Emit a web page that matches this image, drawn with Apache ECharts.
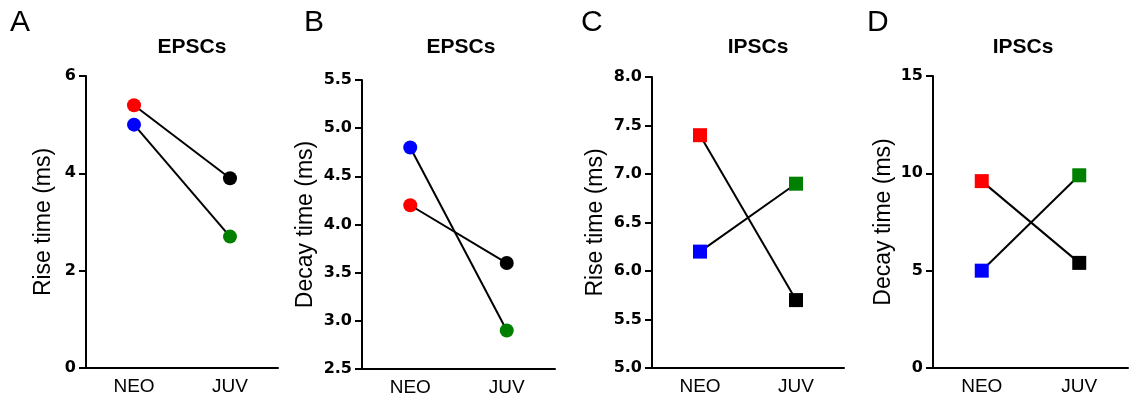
<!DOCTYPE html>
<html>
<head>
<meta charset="utf-8">
<script src="https://cdn.jsdelivr.net/npm/echarts@6/dist/echarts.min.js"></script>
<style>
  html, body { margin: 0; padding: 0; background: #fff; }
  #chart { width: 1132px; height: 400px; }
</style>
</head>
<body>
<div id="chart"></div>
<script>
// Age groups on every x axis
const categories = ['NEO', 'JUV'];

// Each pair is one connected line: [NEO value, JUV value]
// A: EPSC rise time (ms)
const epscRiseRed = [5.4, 3.9];
const epscRiseBlue = [5.0, 2.7];
// B: EPSC decay time (ms)
const epscDecayRed = [4.2, 3.6];
const epscDecayBlue = [4.8, 2.9];
// C: IPSC rise time (ms)
const ipscRiseRed = [7.4, 5.7];
const ipscRiseBlue = [6.2, 6.9];
// D: IPSC decay time (ms)
const ipscDecayRed = [9.6, 5.4];
const ipscDecayBlue = [5.0, 9.9];

// Y tick labels per panel
const ticksA = [0, 2, 4, 6];
const ticksB = [2.5, 3.0, 3.5, 4.0, 4.5, 5.0, 5.5];
const ticksC = [5.0, 5.5, 6.0, 6.5, 7.0, 7.5, 8.0];
const ticksD = [0, 5, 10, 15];

const panelLetters = ['A', 'B', 'C', 'D'];
const panelTitles = ['EPSCs', 'EPSCs', 'IPSCs', 'IPSCs'];
const yNames = ['Rise time (ms)', 'Decay time (ms)', 'Rise time (ms)', 'Decay time (ms)'];

const FONT = '"Liberation Sans", Arial, sans-serif';

const panels = [
  { grid: { left: 86, top: 76, width: 192, height: 292 }, ticks: ticksA, decimals: 0, symbol: 'circle',
    red: epscRiseRed, blue: epscRiseBlue, nameGap: 31, letterX: 10, titleX: 187 },
  { grid: { left: 362, top: 80, width: 193, height: 289 }, ticks: ticksB, decimals: 1, symbol: 'circle',
    red: epscDecayRed, blue: epscDecayBlue, nameGap: 45, letterX: 304, titleX: 456 },
  { grid: { left: 652, top: 77, width: 192, height: 291 }, ticks: ticksC, decimals: 1, symbol: 'rect',
    red: ipscRiseRed, blue: ipscRiseBlue, nameGap: 45, letterX: 581, titleX: 753 },
  { grid: { left: 933, top: 76, width: 195, height: 292 }, ticks: ticksD, decimals: 0, symbol: 'rect',
    red: ipscDecayRed, blue: ipscDecayBlue, nameGap: 38, letterX: 867, titleX: 1018 }
];

const grids = [], xAxes = [], yAxes = [], series = [], titles = [], graphics = [];

panels.forEach((p, i) => {
  grids.push(Object.assign({ containLabel: false }, p.grid));

  xAxes.push({
    type: 'category', gridIndex: i, data: categories, boundaryGap: true,
    axisLine: { onZero: false, lineStyle: { color: '#000', width: 2 } },
    axisTick: { alignWithLabel: true, length: 7, lineStyle: { color: '#000', width: 2 } },
    axisLabel: { margin: 9, color: '#000', fontFamily: FONT, fontSize: 19 },
    splitLine: { show: false }
  });

  const t = p.ticks;
  yAxes.push({
    type: 'value', gridIndex: i,
    min: t[0], max: t[t.length - 1], interval: t[1] - t[0],
    name: yNames[i], nameLocation: 'middle', nameGap: p.nameGap, nameRotate: 90,
    nameTextStyle: { color: '#000', fontFamily: FONT, fontSize: 23 },
    axisLine: { show: true, lineStyle: { color: '#000', width: 2 } },
    axisTick: { show: true, length: 7, lineStyle: { color: '#000', width: 2 } },
    axisLabel: {
      margin: 10, color: '#000', fontFamily: '"DejaVu Sans", sans-serif', fontWeight: 'bold', fontSize: 16,
      formatter: v => Number(v).toFixed(p.decimals)
    },
    splitLine: { show: false }
  });

  const pair = (vals, c0, c1) => [
    { value: vals[0], itemStyle: { color: c0 } },
    { value: vals[1], itemStyle: { color: c1 } }
  ];
  [[p.red, '#ff0000', '#000000'], [p.blue, '#0000ff', '#008000']].forEach(([vals, c0, c1]) => {
    series.push({
      type: 'line', xAxisIndex: i, yAxisIndex: i,
      data: pair(vals, c0, c1),
      symbol: p.symbol, symbolSize: 14, showAllSymbol: true,
      lineStyle: { color: '#000', width: 2 },
      itemStyle: { opacity: 1 },
      animation: false, silent: true
    });
  });

  titles.push({
    text: panelTitles[i], left: p.titleX, top: 32, textAlign: 'center',
    textStyle: { color: '#000', fontFamily: FONT, fontWeight: 'bold', fontSize: 21 }
  });

  graphics.push({
    type: 'text', left: p.letterX, top: 8,
    style: { text: panelLetters[i], fill: '#000', font: '30px ' + FONT }
  });
});

const chart = echarts.init(document.getElementById('chart'), null, { renderer: 'canvas' });
chart.setOption({
  animation: false,
  backgroundColor: '#fff',
  title: titles,
  grid: grids,
  xAxis: xAxes,
  yAxis: yAxes,
  series: series,
  graphic: graphics
});
</script>
</body>
</html>
